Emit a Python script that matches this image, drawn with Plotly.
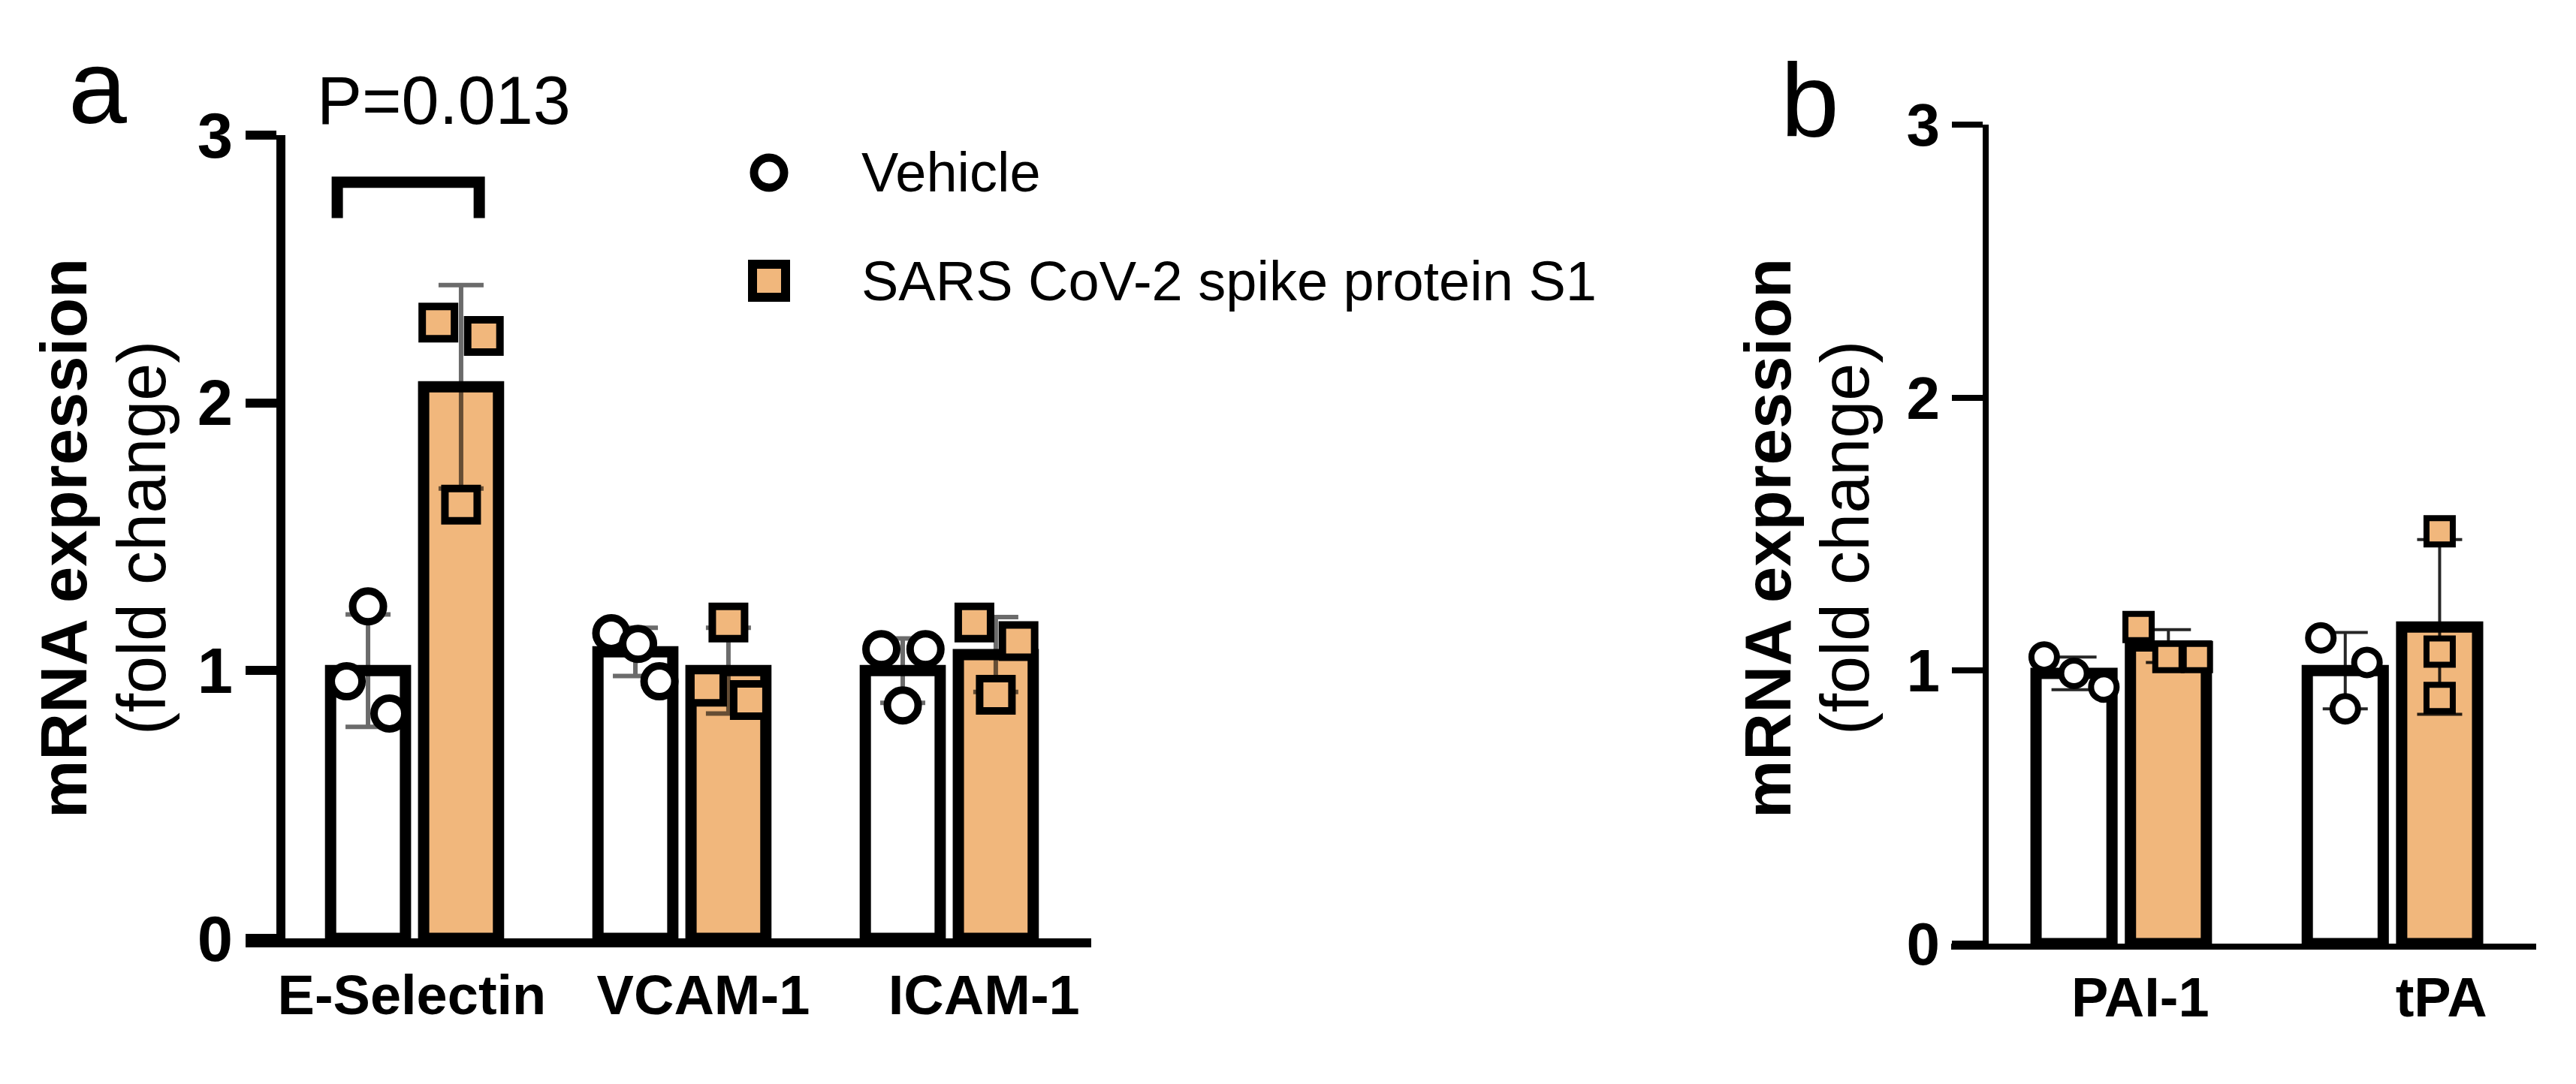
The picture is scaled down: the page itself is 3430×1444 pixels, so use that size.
import plotly.graph_objects as go

W, H = 3430, 1444
FONT = "Liberation Sans, Arial, sans-serif"
ORANGE = "#F1B77C"

# ---- data, panel a ----
genes_a = ["E-Selectin", "VCAM-1", "ICAM-1"]
veh_mean_a = [1.00, 1.07, 1.00]
veh_sd_a = [0.21, 0.09, 0.12]
s1_mean_a = [2.06, 1.00, 1.06]
s1_sd_a = [0.38, 0.16, 0.14]
veh_pts_a = [[1.24, 0.96, 0.84], [1.14, 1.10, 0.96], [1.08, 1.08, 0.87]]
s1_pts_a = [[2.30, 2.25, 1.62], [1.18, 0.94, 0.89], [1.18, 1.11, 0.91]]

# ---- data, panel b ----
genes_b = ["PAI-1", "tPA"]
veh_mean_b = [0.99, 1.00]
veh_sd_b = [0.06, 0.14]
s1_mean_b = [1.09, 1.16]
s1_sd_b = [0.06, 0.32]
veh_pts_b = [[1.05, 0.99, 0.94], [1.12, 1.03, 0.86]]
s1_pts_b = [[1.16, 1.05, 1.05], [1.51, 1.07, 0.90]]

p_label = "P=0.013"
yticks = [0, 1, 2, 3]

# horizontal scatter of replicate points (category units)
jit_veh_a = [[0, -0.08, 0.08], [-0.09, 0.01, 0.09], [-0.08, 0.085, 0]]
jit_s1_a = [[-0.085, 0.085, 0], [0, -0.08, 0.08], [-0.08, 0.085, 0]]
jit_veh_b = [[-0.11, 0, 0.11], [-0.09, 0.08, 0]]
jit_s1_b = [[-0.11, 0, 0.105], [0, 0, 0]]
label_nudge_a = [-0.01, 0.08, 0.13]
label_nudge_b = [0.07, 0.18]

OFF = 0.174
BAR_W = 0.28


def px(x):
    return x / W


def py(y):
    return 1 - y / H


fig = go.Figure()


def add_panel(genes, vm, vsd, sm, ssd, vpts, spts, jv, js, xa, ya, lw, eb, msz):
    idx = list(range(len(genes)))
    fig.add_trace(go.Bar(
        x=[i - OFF for i in idx], y=vm, width=BAR_W, xaxis=xa, yaxis=ya,
        marker=dict(color="white", line=dict(color="black", width=15)),
        error_y=dict(type="data", array=vsd, color=eb[0], thickness=eb[1], width=30),
        showlegend=False,
    ))
    fig.add_trace(go.Bar(
        x=[i + OFF for i in idx], y=sm, width=BAR_W, xaxis=xa, yaxis=ya,
        marker=dict(color=ORANGE, line=dict(color="black", width=15)),
        error_y=dict(type="data", array=ssd, color=eb[0], thickness=eb[1], width=30),
        showlegend=False,
    ))
    xs, ys = [], []
    for i in idx:
        for v, j in zip(vpts[i], jv[i]):
            xs.append(i - OFF + j)
            ys.append(v)
    fig.add_trace(go.Scatter(
        x=xs, y=ys, mode="markers", xaxis=xa, yaxis=ya, cliponaxis=False,
        marker=dict(symbol="circle", size=msz[0], color="white",
                    line=dict(color="black", width=lw)),
        showlegend=False,
    ))
    xs, ys = [], []
    for i in idx:
        for v, j in zip(spts[i], js[i]):
            xs.append(i + OFF + j)
            ys.append(v)
    fig.add_trace(go.Scatter(
        x=xs, y=ys, mode="markers", xaxis=xa, yaxis=ya, cliponaxis=False,
        marker=dict(symbol="square", size=msz[1], color=ORANGE,
                    line=dict(color="black", width=lw)),
        showlegend=False,
    ))


add_panel(genes_a, veh_mean_a, veh_sd_a, s1_mean_a, s1_sd_a, veh_pts_a, s1_pts_a,
          jit_veh_a, jit_s1_a, "x", "y", 10, ("rgba(0,0,0,0.58)", 6), (41, 43))
add_panel(genes_b, veh_mean_b, veh_sd_b, s1_mean_b, s1_sd_b, veh_pts_b, s1_pts_b,
          jit_veh_b, jit_s1_b, "x2", "y2", 8, ("rgba(0,0,0,0.85)", 4), (34, 35))

common_x = dict(showline=True, linecolor="black", ticks="", showgrid=False,
                zeroline=False, fixedrange=True, automargin=False,
                tickfont=dict(family=FONT, size=74, color="black", weight="bold"))
common_y = dict(showline=True, linecolor="black", ticks="outside", ticklen=41,
                tickcolor="black", showgrid=False, zeroline=False, range=[0, 3],
                tickvals=yticks, anchor="free", automargin=False)

fig.update_layout(
    width=W, height=H,
    margin=dict(l=0, r=0, t=0, b=0),
    paper_bgcolor="white", plot_bgcolor="white",
    barmode="overlay",
    xaxis=dict(common_x, domain=[px(319), px(1445)], range=[-0.632, 2.531],
               linewidth=12, anchor="y",
               tickvals=[i + n for i, n in enumerate(label_nudge_a)], ticktext=genes_a),
    yaxis=dict(common_y, domain=[py(1242), py(172)], position=px(366),
               linewidth=12, tickwidth=12,
               tickfont=dict(family=FONT, size=85, color="black", weight="bold")),
    xaxis2=dict(common_x, domain=[px(2590), px(3369)], range=[-0.627, 1.530],
                linewidth=8, anchor="y2",
                tickvals=[i + n for i, n in enumerate(label_nudge_b)], ticktext=genes_b),
    yaxis2=dict(common_y, domain=[py(1249), py(158)], position=px(2636),
                linewidth=8, tickwidth=8,
                tickfont=dict(family=FONT, size=80, color="black", weight="bold")),
)

# significance bracket
fig.add_shape(type="path", xref="x", yref="y",
              path="M -0.289,2.69 L -0.289,2.824 L 0.242,2.824 L 0.242,2.69",
              line=dict(color="black", width=15))

ann = []
ann.append(dict(text=p_label, x=px(583), y=py(126), font=dict(size=90)))
ann.append(dict(text="a", x=px(122), y=py(108), font=dict(size=140)))
ann.append(dict(text="b", x=px(2402), y=py(126), font=dict(size=140)))
# y titles
for cx1, cx2 in [(77, 181), (2346, 2449)]:
    ann.append(dict(text="<b>mRNA expression</b>", x=px(cx1), y=py(709),
                    textangle=-90, font=dict(size=87)))
    ann.append(dict(text="(fold change)", x=px(cx2), y=py(709),
                    textangle=-90, font=dict(size=90)))
# legend text
ann.append(dict(text="Vehicle", x=px(1137), y=py(221), xanchor="left", font=dict(size=74)))
ann.append(dict(text="SARS CoV-2 spike protein S1", x=px(1137), y=py(366),
                xanchor="left", font=dict(size=74)))

for a in ann:
    a.setdefault("xanchor", "center")
    a["font"] = dict(family=FONT, color="black", **a["font"])
    fig.add_annotation(xref="paper", yref="paper", yanchor="middle",
                       showarrow=False, **a)

# legend symbols
fig.add_shape(type="circle", xref="paper", yref="paper",
              x0=px(996), x1=px(1036), y0=py(242), y1=py(202),
              line=dict(color="black", width=11), fillcolor="white")
fig.add_shape(type="rect", xref="paper", yref="paper",
              x0=px(994), x1=px(1038), y0=py(388), y1=py(344),
              line=dict(color="black", width=12), fillcolor=ORANGE)

fig.write_html("out.html")
